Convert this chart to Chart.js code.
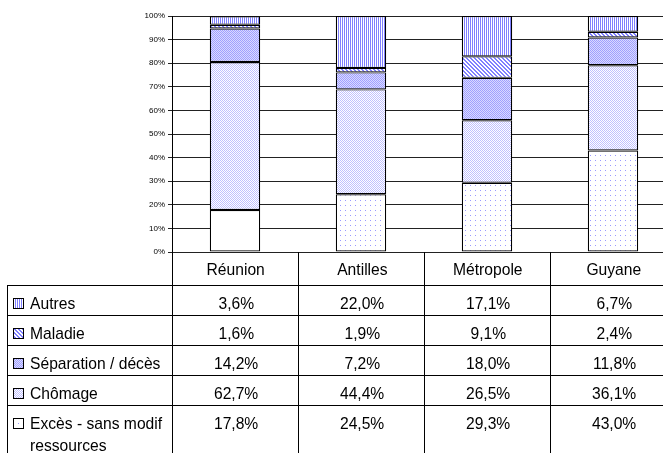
<!DOCTYPE html>
<html>
<head>
<meta charset="utf-8">
<script src="https://cdn.jsdelivr.net/npm/chart.js@4"></script>
<style>
  html, body { margin: 0; padding: 0; background: #fff; overflow: hidden; width: 663px; height: 453px; }
  #wrap { position: absolute; left: 0; top: 0; width: 700px; height: 260px; }
  #tbl { position: absolute; left: 0; top: 0; width: 700px; height: 453px; }
  .cell { position: absolute; box-sizing: border-box; border-left: 1px solid #000;
          font-family: "Liberation Sans", Arial, sans-serif;
          font-size: 17px; line-height: 22px; color: #000; padding-top: 7px; white-space: nowrap; }
  .cell span { display: inline-block; transform: scaleX(0.92); transform-origin: 50% 50%; }
  .num { text-align: center; border-top: 1px solid #000; }
  .hdr { text-align: center; }
  .lbl { border-top: 1px solid #000; padding-left: 22px; }
  .lbl span { transform-origin: 0 0; white-space: normal; width: 165px; }
  .lbl canvas { position: absolute; left: 5px; top: 12px; }
</style>
</head>
<body>
<div id="wrap"><canvas id="chart"></canvas></div>
<div id="tbl"></div>
<script>
// categories and series (values in %)
const categories = ["Réunion", "Antilles", "Métropole", "Guyane"];
const seriesNames = ["Autres", "Maladie", "Séparation / décès", "Chômage", "Excès - sans modif ressources"];
const autres = [3.6, 22.0, 17.1, 6.7];
const maladie = [1.6, 1.9, 9.1, 2.4];
const separation = [14.2, 7.2, 18.0, 11.8];
const chomage = [62.7, 44.4, 26.5, 36.1];
const exces = [17.8, 24.5, 29.3, 43.0];

// small fill patterns, like the old office hatches
function tile(w, h, draw) {
  const c = document.createElement("canvas");
  c.width = w; c.height = h;
  const g = c.getContext("2d");
  g.fillStyle = "#fff";
  g.fillRect(0, 0, w, h);
  draw(g);
  return c;
}
const tiles = {
  autres: tile(2, 1, g => { g.fillStyle = "#7f7fff"; g.fillRect(0, 0, 1, 1); }),
  maladie: tile(4, 4, g => {
    g.fillStyle = "#8080ff";
    for (let y = 0; y < 4; y++) for (let x = 0; x < 4; x++) if ((x - y + 4) % 4 < 2) g.fillRect(x, y, 1, 1);
  }),
  separation: tile(2, 2, g => {
    g.fillStyle = "#dadaff"; g.fillRect(0, 0, 2, 2);
    g.fillStyle = "#a0a0ff"; g.fillRect(0, 0, 1, 1); g.fillRect(1, 1, 1, 1);
  }),
  chomage: tile(2, 2, g => {
    g.fillStyle = "#c0c0ff"; g.fillRect(0, 0, 1, 1); g.fillRect(1, 1, 1, 1);
  }),
  exces: tile(5, 5, g => { g.fillStyle = "#9999ff"; g.fillRect(0, 0, 1, 1); })
};

const ctx = document.getElementById("chart").getContext("2d");
const pat = k => ctx.createPattern(tiles[k], "repeat");
const excesFill = [ "#fff", pat("exces"), pat("exces"), pat("exces") ]; // Réunion left plain

function ds(label, data, bg) {
  return {
    label: label, data: data, backgroundColor: bg,
    borderColor: "#000", borderWidth: 1.2, borderSkipped: false,
    categoryPercentage: 1, barPercentage: 0.4
  };
}

new Chart(ctx, {
  type: "bar",
  data: {
    labels: categories,
    datasets: [
      ds(seriesNames[4], exces, excesFill),
      ds(seriesNames[3], chomage, pat("chomage")),
      ds(seriesNames[2], separation, pat("separation")),
      ds(seriesNames[1], maladie, pat("maladie")),
      ds(seriesNames[0], autres, pat("autres"))
    ]
  },
  options: {
    responsive: true,
    maintainAspectRatio: false,
    animation: false,
    layout: { padding: { left: 0, right: 24, top: 16, bottom: 8 } },
    plugins: { legend: { display: false }, tooltip: { enabled: false } },
    scales: {
      x: { stacked: true, display: false },
      y: {
        stacked: true, min: 0, max: 100,
        afterFit: s => { s.width = 172; },
        ticks: {
          stepSize: 10, padding: 3, color: "#000",
          font: { family: "Liberation Sans, Arial, sans-serif", size: 8 },
          callback: v => v + "%"
        },
        grid: { color: "#222", lineWidth: 1, tickLength: 4 },
        border: { color: "#000", width: 1 }
      }
    }
  }
});

// data table under the chart
const tbl = document.getElementById("tbl");
const colLeft = 172, colW = 126, hdrTop = 252, rowTop = 285, rowH = 30;
const rows = [autres, maladie, separation, chomage, exces];
const rowTiles = ["autres", "maladie", "separation", "chomage", "exces"];
const fmt = v => v.toFixed(1).replace(".", ",") + "%";

function cell(cls, left, top, w, h, text) {
  const d = document.createElement("div");
  d.className = "cell " + cls;
  d.style.left = left + "px"; d.style.top = top + "px";
  d.style.width = w + "px"; d.style.height = h + "px";
  const s = document.createElement("span");
  s.textContent = text;
  d.appendChild(s);
  tbl.appendChild(d);
  return d;
}

categories.forEach((c, j) => cell("hdr", colLeft + j * colW, hdrTop, colW + 1, rowTop - hdrTop, c));

rows.forEach((vals, i) => {
  const top = rowTop + i * rowH;
  const h = i === rows.length - 1 ? 453 - top + 20 : rowH + 1;
  const lab = cell("lbl", 7, top, colLeft - 7, h, seriesNames[i]);
  const sw = document.createElement("canvas");
  sw.width = 11; sw.height = 11;
  const g = sw.getContext("2d");
  g.fillStyle = g.createPattern(tiles[rowTiles[i]], "repeat");
  g.fillRect(0, 0, 11, 11);
  g.strokeStyle = "#000"; g.lineWidth = 1;
  g.strokeRect(0.5, 0.5, 10, 10);
  lab.appendChild(sw);
  vals.forEach((v, j) => cell("num", colLeft + j * colW, top, colW + 1, h, fmt(v)));
});
</script>
</body>
</html>
